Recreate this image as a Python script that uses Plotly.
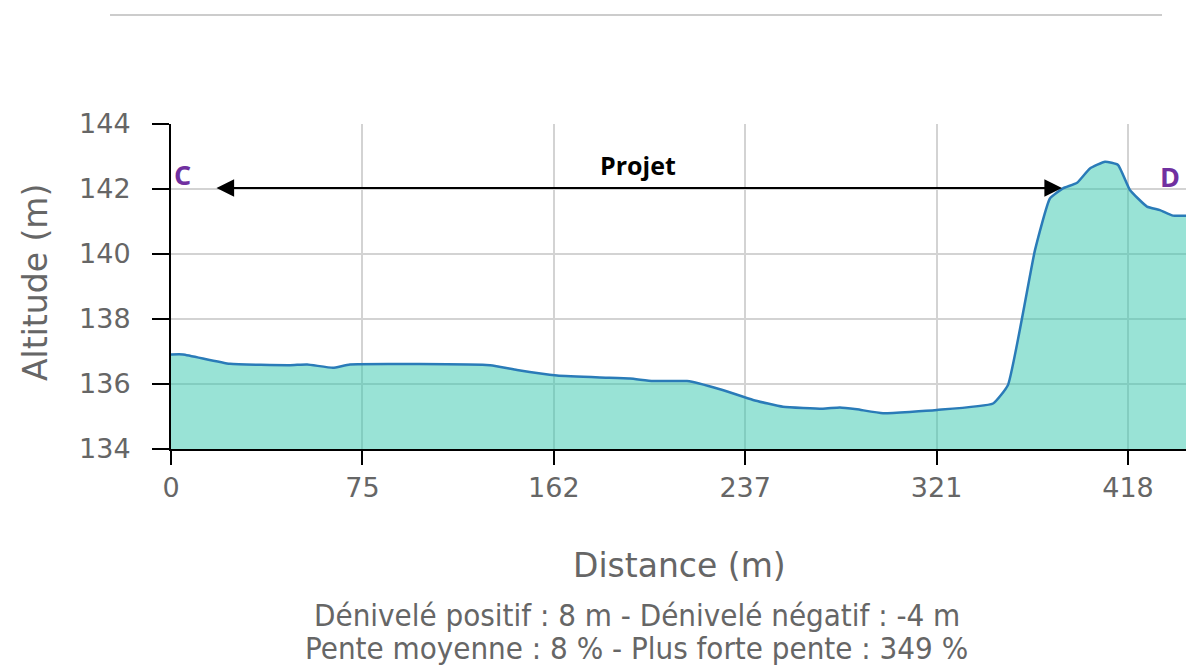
import plotly.graph_objects as go

# Profile samples: position along profile (sample index units), altitude (m)
profile_pos = [0, 0.63, 3.08, 6.22, 7.11, 8.46, 9.35, 16.67, 18.08, 20.17, 22.41, 23.98,
               25.18, 26.96, 28.68, 30.41, 31.97, 34.06, 34.95, 35.84, 37.20, 40.02,
               42.95, 43.73, 45.14, 45.92, 46.60, 47.34, 48.01, 48.80, 49.48, 50.10,
               50.99, 51.67, 52.35, 53.24]
altitude = [136.91, 136.91, 136.62, 136.58, 136.60, 136.50, 136.60, 136.58, 136.43, 136.26,
            136.20, 136.17, 136.09, 136.09, 135.84, 135.51, 135.30, 135.24, 135.28, 135.22,
            135.10, 135.20, 135.40, 135.97, 140.12, 141.71, 142.02, 142.19, 142.63, 142.84,
            142.74, 141.97, 141.46, 141.35, 141.18, 141.18]

# x ticks: evenly spaced sample positions labelled with cumulative distance
tick_pos = [0, 10, 20, 30, 40, 50]
tick_labels = ["0", "75", "162", "237", "321", "418"]
y_ticks = [134, 136, 138, 140, 142, 144]

# Annotation anchors
arrow_start, arrow_end, arrow_alt = 2.30, 46.55, 142.03

W, H = 1186, 667
L, R, T, B = 171, 0, 124, 218
pw, ph = W - L - R, H - T - B

fig = go.Figure()
fig.add_trace(go.Scatter(
    x=profile_pos, y=altitude, mode="lines",
    line=dict(color="#2a7bb8", width=2.5, shape="spline", smoothing=0.4),
    fill="tozeroy", fillcolor="rgba(51,199,173,0.5)",
    hoverinfo="skip", showlegend=False,
))

grid = "#d3d3d3"
font_axis = "DejaVu Sans"
fig.update_layout(
    width=W, height=H,
    margin=dict(l=L, r=R, t=T, b=B, pad=0),
    paper_bgcolor="white", plot_bgcolor="white",
    xaxis=dict(
        range=[0, pw / 19.14], tickvals=tick_pos, ticktext=tick_labels,
        showgrid=True, gridcolor=grid, gridwidth=2,
        showline=True, linecolor="black", linewidth=2,
        ticks="outside", ticklen=14, tickwidth=2, tickcolor="black",
        tickfont=dict(family=font_axis, size=27, color="#666666"),
        zeroline=False, fixedrange=True,
    ),
    yaxis=dict(
        range=[134, 144], tickvals=y_ticks,
        showgrid=True, gridcolor=grid, gridwidth=2,
        showline=True, linecolor="black", linewidth=2,
        ticks="outside", ticklen=17, tickwidth=2, tickcolor="black",
        tickfont=dict(family=font_axis, size=27, color="#666666"),
        ticklabelstandoff=16,
        zeroline=False, fixedrange=True,
    ),
)

def px_x(px):
    return (px - L) / pw

def px_y(py):
    return (H - B - py) / ph

cond = "DejaVu Sans Condensed, DejaVu Sans"
ann = [
    dict(text="Altitude (m)", xref="paper", yref="paper", x=px_x(35), y=px_y(283),
         textangle=-90, showarrow=False, xanchor="center", yanchor="middle",
         font=dict(family=font_axis, size=33, color="#666666")),
    dict(text="Distance (m)", xref="paper", yref="paper", x=px_x(679), y=px_y(565),
         showarrow=False, xanchor="center", yanchor="middle",
         font=dict(family=font_axis, size=33, color="#666666")),
    dict(text="Dénivelé positif : 8 m - Dénivelé négatif : -4 m", xref="paper", yref="paper",
         x=px_x(637), y=px_y(615), showarrow=False, xanchor="center", yanchor="middle",
         font=dict(family=cond, size=31, color="#666666")),
    dict(text="Pente moyenne : 8 % - Plus forte pente : 349 %", xref="paper", yref="paper",
         x=px_x(636), y=px_y(648), showarrow=False, xanchor="center", yanchor="middle",
         font=dict(family=cond, size=31, color="#666666")),
    dict(text="<b>Projet</b>", xref="paper", yref="paper", x=px_x(638), y=px_y(165),
         showarrow=False, xanchor="center", yanchor="middle",
         font=dict(family="Open Sans", size=25, color="black")),
    dict(text="<b>C</b>", xref="paper", yref="paper", x=px_x(182), y=px_y(174),
         showarrow=False, xanchor="center", yanchor="middle",
         font=dict(family="Open Sans", size=27, color="#7030a0")),
    dict(text="<b>D</b>", xref="paper", yref="paper", x=px_x(1170), y=px_y(176),
         showarrow=False, xanchor="center", yanchor="middle",
         font=dict(family="Open Sans", size=27, color="#7030a0")),
    dict(x=arrow_end, y=arrow_alt, ax=arrow_start, ay=arrow_alt,
         xref="x", yref="y", axref="x", ayref="y", text="",
         showarrow=True, arrowhead=2, startarrowhead=2, arrowside="end+start",
         arrowsize=1.6, startarrowsize=1.6, arrowwidth=2.2, arrowcolor="black"),
]
fig.update_layout(annotations=ann)

fig.add_shape(type="line", xref="paper", yref="paper",
              x0=px_x(110), x1=px_x(1162), y0=px_y(15), y1=px_y(15),
              line=dict(color="#cccccc", width=2))

fig.write_html("out.html", config={"displayModeBar": False},
               post_script="document.body.style.margin='0';document.body.style.overflow='hidden';")
